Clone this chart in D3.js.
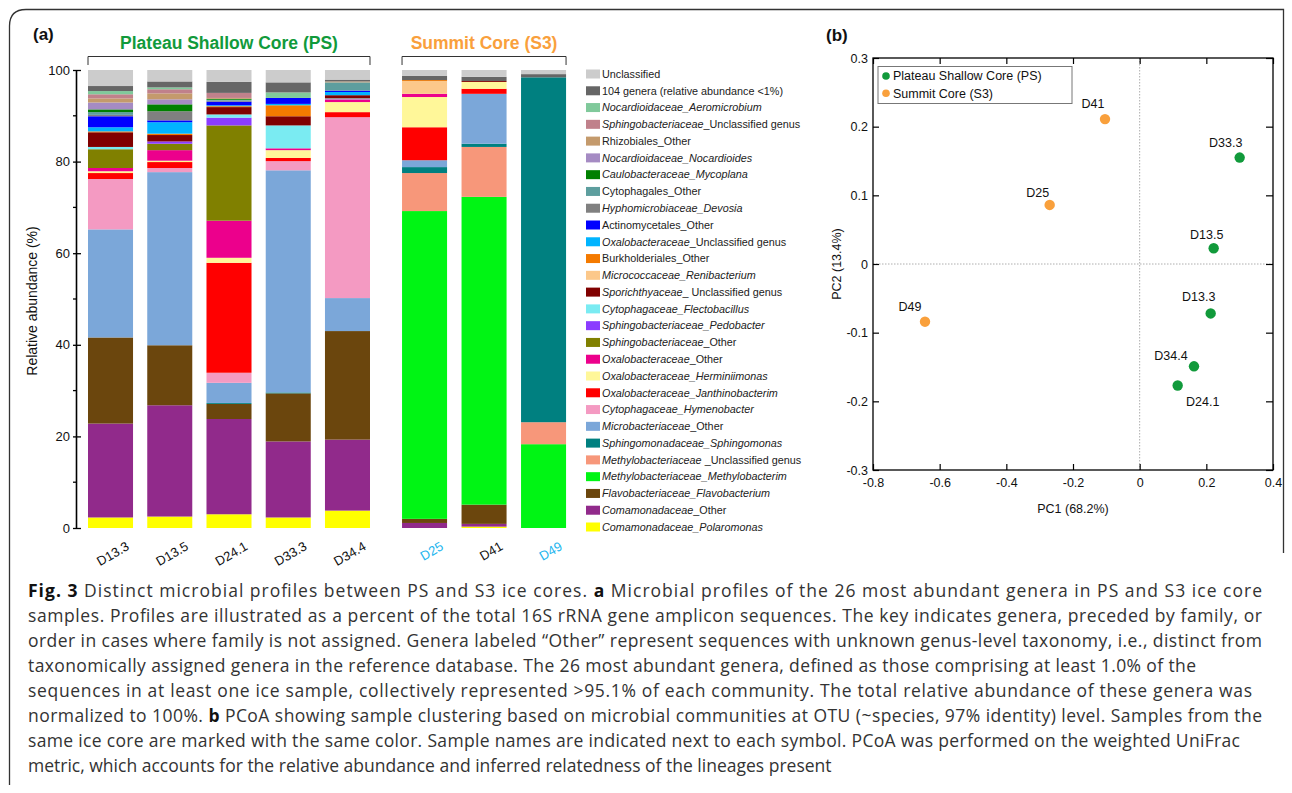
<!DOCTYPE html>
<html>
<head>
<meta charset="utf-8">
<script src="https://cdn.jsdelivr.net/npm/d3@7"></script>
<style>
  html, body { margin: 0; padding: 0; background: #fff; }
  svg { display: block; }
</style>
</head>
<body>
<svg id="fig" width="1292" height="793"></svg>
<script>
// ---------------- data: panel (a) ----------------
const psSamples = ["D13.3", "D13.5", "D24.1", "D33.3", "D34.4"];
const s3Samples = ["D25", "D41", "D49"];
const blueLabelSamples = ["D25", "D49"];

// Legend order (top to bottom); *...* marks italic segments
const taxa = [
  "Unclassified",
  "104 genera (relative abundance <1%)",
  "*Nocardioidaceae_Aeromicrobium*",
  "*Sphingobacteriaceae*_Unclassified genus",
  "Rhizobiales_Other",
  "*Nocardioidaceae_Nocardioides*",
  "*Caulobacteraceae_Mycoplana*",
  "Cytophagales_Other",
  "*Hyphomicrobiaceae_Devosia*",
  "Actinomycetales_Other",
  "*Oxalobacteraceae*_Unclassified genus",
  "Burkholderiales_Other",
  "*Micrococcaceae_Renibacterium*",
  "*Sporichthyaceae*_ Unclassified genus",
  "*Cytophagaceae_Flectobacillus*",
  "*Sphingobacteriaceae_Pedobacter*",
  "*Sphingobacteriaceae*_Other",
  "*Oxalobacteraceae*_Other",
  "*Oxalobacteraceae_Herminiimonas*",
  "*Oxalobacteraceae_Janthinobacterim*",
  "*Cytophagaceae_Hymenobacter*",
  "*Microbacteriaceae*_Other",
  "*Sphingomonadaceae_Sphingomonas*",
  "*Methylobacteriaceae* _Unclassified genus",
  "*Methylobacteriaceae_Methylobacterim*",
  "*Flavobacteriaceae_Flavobacterium*",
  "*Comamonadaceae*_Other",
  "*Comamonadaceae_Polaromonas*"
];
const taxonColors = [
  "#cccccc", "#666666", "#80c99b", "#c0818b", "#c49a6c", "#a58bc3", "#008000",
  "#5d9e9e", "#808080", "#0000ff", "#00b4ff", "#f47a00", "#fcc88a", "#800000",
  "#7aebf2", "#8b3cff", "#808000", "#ec008c", "#fff799", "#ff0000", "#f49ac2",
  "#7ba7d9", "#008080", "#f7977a", "#00f514", "#6b460d", "#912a8b", "#ffff00"
];

// Relative abundance (%) per sample, listed bottom of stack (Polaromonas) to top (Unclassified)
const abundanceD13_3 = [2.3, 20.5, 18.8, 0, 0, 0, 23.6, 11.0, 1.3, 0.4, 0.7, 4.1, 0, 0.5, 3.2, 0, 0.2, 0.9, 2.4, 0.3, 0.6, 0.6, 1.5, 0.9, 0.9, 0.7, 1.1, 3.5];
const abundanceD13_5 = [2.5, 24.3, 13.1, 0, 0, 0, 37.8, 0.9, 1.3, 0.3, 2.3, 1.4, 0.5, 0, 1.4, 0, 0.3, 2.5, 0.4, 2.0, 0, 1.5, 1.1, 1.3, 0.9, 0.4, 1.3, 2.5];
const abundanceD24_1 = [3.0, 20.8, 3.3, 0, 0, 0.2, 4.4, 2.2, 24.0, 1.1, 8.1, 20.8, 1.7, 0.7, 1.6, 0, 0.2, 0.2, 0.8, 0.2, 0.2, 0.2, 0, 0.2, 1.1, 0, 2.4, 2.6];
const abundanceD33_3 = [2.3, 16.6, 10.5, 0, 0, 0.2, 48.5, 2.0, 0.7, 1.7, 0.4, 0, 0, 5.0, 2.0, 0, 2.4, 0.3, 1.3, 0, 0, 0, 0, 0, 0, 1.2, 2.2, 2.7];
const abundanceD34_4 = [3.8, 15.5, 23.7, 0, 0, 0, 7.2, 39.5, 1.1, 2.2, 0.6, 0, 0, 0.2, 0.7, 0, 0, 0.7, 0.3, 0, 1.8, 0, 0, 0.2, 0, 0, 0.4, 2.1];
const abundanceD25   = [0, 1.1, 0.9, 67.2, 8.3, 1.3, 1.5, 0, 7.2, 6.6, 0.7, 0, 0, 0, 0, 2.8, 0.2, 0, 0, 0, 0, 0, 0, 0, 0, 0, 0.9, 1.3];
const abundanceD41   = [0.3, 0.6, 4.2, 67.2, 10.9, 0.7, 10.9, 0, 1.1, 1.5, 0, 0, 0, 0, 0.2, 0, 0, 0, 0, 0, 0, 0, 0, 0, 0, 0, 0.9, 1.5];
const abundanceD49   = [0, 0, 0, 18.3, 4.8, 75.3, 0, 0, 0, 0, 0, 0, 0, 0, 0, 0, 0, 0, 0, 0, 0, 0, 0, 0, 0, 0, 0.7, 0.9];

const abundanceYTicks = [0, 20, 40, 60, 80, 100];
const abundanceMinorTicks = [10, 30, 50, 70, 90];

// ---------------- data: panel (b) ----------------
const pcoaSamples = ["D41", "D33.3", "D25", "D13.5", "D13.3", "D49", "D34.4", "D24.1"];
const pcoaCores   = ["S3", "PS", "S3", "PS", "PS", "S3", "PS", "PS"];
const pc1Values   = [-0.104, 0.300, -0.270, 0.222, 0.213, -0.644, 0.163, 0.114];
const pc2Values   = [0.211, 0.155, 0.086, 0.023, -0.072, -0.084, -0.149, -0.177];
const pc1Ticks = [-0.8, -0.6, -0.4, -0.2, 0, 0.2, 0.4];
const pc2Ticks = [-0.3, -0.2, -0.1, 0, 0.1, 0.2, 0.3];
const coreNames = ["Plateau Shallow Core (PS)", "Summit Core (S3)"];

// ---------------- caption ----------------
const captionLines = [
  "**Fig. 3** Distinct microbial profiles between PS and S3 ice cores. **a** Microbial profiles of the 26 most abundant genera in PS and S3 ice core",
  "samples. Profiles are illustrated as a percent of the total 16S rRNA gene amplicon sequences. The key indicates genera, preceded by family, or",
  "order in cases where family is not assigned. Genera labeled \u201cOther\u201d represent sequences with unknown genus-level taxonomy, i.e., distinct from",
  "taxonomically assigned genera in the reference database. The 26 most abundant genera, defined as those comprising at least 1.0% of the",
  "sequences in at least one ice sample, collectively represented >95.1% of each community. The total relative abundance of these genera was",
  "normalized to 100%. **b** PCoA showing sample clustering based on microbial communities at OTU (~species, 97% identity) level. Samples from the",
  "same ice core are marked with the same color. Sample names are indicated next to each symbol. PCoA was performed on the weighted UniFrac",
  "metric, which accounts for the relative abundance and inferred relatedness of the lineages present"
];
// right end of each caption line (null = natural width)
const captionLineEnds = [1262, 1262, 1262, 1196, 1252, 1262, 1240, null];

// ---------------- drawing ----------------
const FONT = "'Liberation Sans', Arial, sans-serif";
const GREEN = "#119a3b", ORANGE = "#f9a03c", LABEL_BLUE = "#22b5ee";
const svg = d3.select("#fig");

// figure frame
svg.append("path")
  .attr("d", "M9.5,785 V26 Q9.5,9.5 26,9.5 H1283.5 V553")
  .attr("fill", "none").attr("stroke", "#333").attr("stroke-width", 1.3);

// --- panel (a): stacked bars ---
const abundanceBySample = {
  "D13.3": abundanceD13_3, "D13.5": abundanceD13_5, "D24.1": abundanceD24_1,
  "D33.3": abundanceD33_3, "D34.4": abundanceD34_4,
  "D25": abundanceD25, "D41": abundanceD41, "D49": abundanceD49
};
const allSamples = psSamples.concat(s3Samples);
const stackKeys = d3.range(taxa.length).reverse(); // legend index, bottom to top
const table = allSamples.map(s => {
  const row = { sample: s };
  abundanceBySample[s].forEach((v, i) => { row[stackKeys[i]] = v; });
  return row;
});
const series = d3.stack().keys(stackKeys)(table);

const xPS = d3.scaleBand().domain(psSamples).range([80.9, 377.1]).paddingInner(0.24).paddingOuter(0.12);
const xS3 = d3.scaleBand().domain(s3Samples).range([394.9, 573.4]).paddingInner(0.24).paddingOuter(0.12);
const xBar = s => psSamples.includes(s) ? xPS(s) : xS3(s);
const barW = xPS.bandwidth();
const yA = d3.scaleLinear().domain([0, 100]).range([528, 70]);

const gBars = svg.append("g");
series.forEach(layer => {
  const color = taxonColors[layer.key];
  gBars.selectAll(null)
    .data(layer.filter(d => d[1] - d[0] > 0))
    .join("rect")
    .attr("x", d => xBar(d.data.sample))
    .attr("y", d => yA(d[1]))
    .attr("width", barW)
    .attr("height", d => yA(d[0]) - yA(d[1]))
    .attr("fill", color);
});

// y axis
const axisX = 76;
const gY = svg.append("g").attr("transform", `translate(${axisX},0)`)
  .call(d3.axisLeft(yA).tickValues(abundanceYTicks).tickSizeInner(3).tickSizeOuter(0).tickPadding(3));
gY.select(".domain").attr("stroke", "#000").attr("stroke-width", 1.6);
gY.selectAll(".tick line").attr("stroke", "#000").attr("stroke-width", 1.3).attr("x2", 5).attr("x1", -3);
gY.selectAll(".tick text").attr("font-family", FONT).attr("font-size", 13).attr("fill", "#111");
svg.append("g").selectAll("line").data(abundanceMinorTicks).join("line")
  .attr("x1", axisX - 3).attr("x2", axisX + 1)
  .attr("y1", d => yA(d)).attr("y2", d => yA(d))
  .attr("stroke", "#000").attr("stroke-width", 1.3);
svg.append("text")
  .attr("transform", `translate(37,${(yA(0) + yA(100)) / 2 + 2}) rotate(-90)`)
  .attr("text-anchor", "middle").attr("font-family", FONT).attr("font-size", 14).attr("fill", "#111")
  .text("Relative abundance (%)");

// sample labels
svg.append("g").selectAll("text").data(allSamples).join("text")
  .attr("transform", s => `translate(${xBar(s) + barW / 2 + 15},541) rotate(-30)`)
  .attr("text-anchor", "end").attr("dy", "0.71em")
  .attr("font-family", FONT).attr("font-size", 13)
  .attr("fill", s => blueLabelSamples.includes(s) ? LABEL_BLUE : "#111")
  .text(s => s);

// core brackets and titles
const groups = [
  { name: coreNames[0], color: GREEN, x0: xPS(psSamples[0]), x1: xPS(psSamples[psSamples.length - 1]) + barW },
  { name: coreNames[1], color: ORANGE, x0: xS3(s3Samples[0]), x1: xS3(s3Samples[s3Samples.length - 1]) + barW }
];
groups.forEach(g => {
  svg.append("path")
    .attr("d", `M${g.x0},65 V56.5 H${g.x1} V65`)
    .attr("fill", "none").attr("stroke", "#333").attr("stroke-width", 1);
  svg.append("text")
    .attr("x", (g.x0 + g.x1) / 2).attr("y", 49)
    .attr("text-anchor", "middle").attr("font-family", FONT).attr("font-weight", "bold")
    .attr("font-size", 17.5).attr("fill", g.color)
    .text(g.name);
});
svg.append("text").attr("x", 33).attr("y", 40).attr("font-family", FONT)
  .attr("font-weight", "bold").attr("font-size", 17).attr("fill", "#111").text("(a)");

// legend
const yLeg = d3.scalePoint().domain(d3.range(taxa.length)).range([74, 527]);
const gLeg = svg.append("g");
taxa.forEach((label, i) => {
  gLeg.append("rect").attr("x", 586).attr("y", yLeg(i) - 4.5).attr("width", 14).attr("height", 9)
    .attr("fill", taxonColors[i]);
  const t = gLeg.append("text").attr("x", 602).attr("y", yLeg(i)).attr("dy", "0.35em")
    .attr("font-family", FONT).attr("font-size", 10.8).attr("fill", "#222");
  label.split("*").forEach((part, k) => {
    if (part === "") return;
    t.append("tspan").attr("font-style", k % 2 === 1 ? "italic" : "normal").text(part);
  });
});

// --- panel (b): PCoA ---
const xB = d3.scaleLinear().domain([-0.8, 0.4]).range([873, 1273]);
const yB = d3.scaleLinear().domain([-0.3, 0.3]).range([470, 58]);
const fmt = d => d === 0 ? "0" : d.toFixed(1);

// zero reference lines
svg.append("line").attr("x1", xB(0)).attr("x2", xB(0)).attr("y1", yB(0.3)).attr("y2", yB(-0.3))
  .attr("stroke", "#999").attr("stroke-width", 0.8).attr("stroke-dasharray", "1.5,1.5");
svg.append("line").attr("x1", xB(-0.8)).attr("x2", xB(0.4)).attr("y1", yB(0)).attr("y2", yB(0))
  .attr("stroke", "#999").attr("stroke-width", 0.8).attr("stroke-dasharray", "1.5,1.5");

const styleAxis = (g, labels) => {
  g.select(".domain").remove();
  g.selectAll(".tick line").attr("stroke", "#000").attr("stroke-width", 1.2);
  if (labels) g.selectAll(".tick text").attr("font-family", FONT).attr("font-size", 12.5).attr("fill", "#111");
  else g.selectAll(".tick text").remove();
};
svg.append("g").attr("transform", `translate(0,${yB(-0.3)})`)
  .call(d3.axisBottom(xB).tickValues(pc1Ticks).tickFormat(fmt).tickSizeInner(-6).tickSizeOuter(0).tickPadding(8))
  .call(g => styleAxis(g, true));
svg.append("g").attr("transform", `translate(0,${yB(0.3)})`)
  .call(d3.axisTop(xB).tickValues(pc1Ticks).tickSizeInner(-6).tickSizeOuter(0))
  .call(g => styleAxis(g, false));
svg.append("g").attr("transform", `translate(${xB(-0.8)},0)`)
  .call(d3.axisLeft(yB).tickValues(pc2Ticks).tickFormat(fmt).tickSizeInner(-6).tickSizeOuter(0).tickPadding(5))
  .call(g => styleAxis(g, true));
svg.append("g").attr("transform", `translate(${xB(0.4)},0)`)
  .call(d3.axisRight(yB).tickValues(pc2Ticks).tickSizeInner(-7).tickSizeOuter(0))
  .call(g => styleAxis(g, false));
svg.append("rect").attr("x", xB(-0.8)).attr("y", yB(0.3))
  .attr("width", xB(0.4) - xB(-0.8)).attr("height", yB(-0.3) - yB(0.3))
  .attr("fill", "none").attr("stroke", "#000").attr("stroke-width", 1.3);

svg.append("text").attr("x", (xB(-0.8) + xB(0.4)) / 2).attr("y", 513)
  .attr("text-anchor", "middle").attr("font-family", FONT).attr("font-size", 12.5).attr("fill", "#111")
  .text("PC1 (68.2%)");
svg.append("text").attr("transform", `translate(841,${yB(0)}) rotate(-90)`)
  .attr("text-anchor", "middle").attr("font-family", FONT).attr("font-size", 12.5).attr("fill", "#111")
  .text("PC2 (13.4%)");
svg.append("text").attr("x", 826).attr("y", 41).attr("font-family", FONT)
  .attr("font-weight", "bold").attr("font-size", 17).attr("fill", "#111").text("(b)");

// points and labels
const coreColor = c => c === "PS" ? GREEN : ORANGE;
const labelOffsets = {
  "D41": [-12, -15], "D33.3": [-14, -15], "D25": [-12, -12], "D13.5": [-7, -14],
  "D13.3": [-12, -17], "D49": [-15, -15], "D34.4": [-23, -11], "D24.1": [25, 16]
};
pcoaSamples.forEach((s, i) => {
  const cx = xB(pc1Values[i]), cy = yB(pc2Values[i]);
  svg.append("circle").attr("cx", cx).attr("cy", cy).attr("r", 5.2).attr("fill", coreColor(pcoaCores[i]));
  const [dx, dy] = labelOffsets[s];
  svg.append("text").attr("x", cx + dx).attr("y", cy + dy).attr("dy", "0.35em")
    .attr("text-anchor", "middle").attr("font-family", FONT).attr("font-size", 12.5).attr("fill", "#111")
    .text(s);
});

// legend box
svg.append("rect").attr("x", 878).attr("y", 66.5).attr("width", 194).attr("height", 37)
  .attr("fill", "#fff").attr("stroke", "#777").attr("stroke-width", 1);
[["PS", coreNames[0]], ["S3", coreNames[1]]].forEach(([c, name], i) => {
  const yy = 76 + i * 17.3;
  svg.append("circle").attr("cx", 886).attr("cy", yy).attr("r", 3.8).attr("fill", coreColor(c));
  svg.append("text").attr("x", 893).attr("y", yy).attr("dy", "0.35em")
    .attr("font-family", FONT).attr("font-size", 12.5).attr("fill", "#111").text(name);
});

// caption
const gCap = svg.append("g");
captionLines.forEach((line, i) => {
  const t = gCap.append("text").attr("x", 28).attr("y", 597 + i * 25)
    .attr("font-family", "'Open Sans', 'Noto Sans', sans-serif").attr("font-size", 17.5).attr("fill", "#333");
  if (captionLineEnds[i] !== null) {
    t.attr("textLength", captionLineEnds[i] - 28).attr("lengthAdjust", "spacing");
  }
  line.split("**").forEach((part, k) => {
    if (part === "") return;
    t.append("tspan").attr("font-weight", k % 2 === 1 ? "bold" : "normal")
      .attr("fill", k % 2 === 1 ? "#111" : "#333").text(part);
  });
});
</script>
</body>
</html>
